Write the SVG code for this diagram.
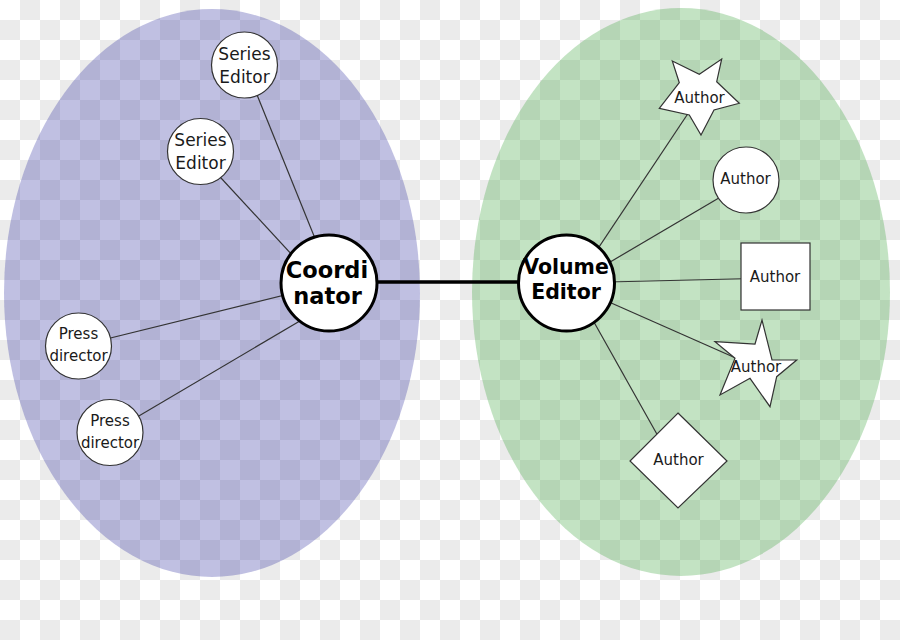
<svg xmlns="http://www.w3.org/2000/svg" width="900" height="640" viewBox="0 0 900 640">
  <defs>
    <pattern id="checker" x="0" y="0" width="40" height="40" patternUnits="userSpaceOnUse">
      <rect width="40" height="40" fill="#ffffff"/>
      <rect x="20" y="0" width="20" height="20" fill="#ebebeb"/>
      <rect x="0" y="20" width="20" height="20" fill="#ebebeb"/>
    </pattern>
    <style>
      .node { fill: #ffffff; stroke: #333333; stroke-width: 1.2; }
      .hub { fill: #ffffff; stroke: #000000; stroke-width: 3; }
      .lbl { font-family: "DejaVu Sans", "Noto Sans", sans-serif; fill: #1a1a1a; text-anchor: middle; }
      .hubl { font-family: "DejaVu Sans", "Noto Sans", sans-serif; font-weight: bold; fill: #000000; text-anchor: middle; }
      .link { stroke: #333333; stroke-width: 1.2; fill: none; }
    </style>
  </defs>

  <rect x="0" y="0" width="900" height="640" fill="url(#checker)"/>

  <g id="groups">
    <ellipse cx="212" cy="293" rx="208" ry="284" fill="rgb(45,45,158)" fill-opacity="0.3"/>
    <ellipse cx="681" cy="292" rx="209" ry="284" fill="rgb(55,162,55)" fill-opacity="0.3"/>
  </g>

  <g id="connectors">
    <line class="link" x1="245" y1="65" x2="333" y2="283"/>
    <line class="link" x1="197" y1="152" x2="318" y2="283"/>
    <line class="link" x1="78" y1="346" x2="329" y2="284"/>
    <line class="link" x1="110" y1="433" x2="310" y2="315"/>
    <line stroke="#000000" stroke-width="3.5" x1="377" y1="282" x2="518" y2="282"/>
    <line class="link" x1="699" y1="97" x2="575" y2="283"/>
    <line class="link" x1="746" y1="182" x2="566" y2="288"/>
    <line class="link" x1="775" y1="278" x2="566" y2="283"/>
    <line class="link" x1="756" y1="367" x2="566" y2="283"/>
    <line class="link" x1="672" y1="461" x2="572" y2="283"/>
  </g>

  <g id="series-editor-1">
    <circle class="node" cx="244.5" cy="65" r="33"/>
    <text class="lbl" x="244.5" y="59.5" font-size="17">Series</text>
    <text class="lbl" x="244.5" y="82.5" font-size="17">Editor</text>
  </g>
  <g id="series-editor-2">
    <circle class="node" cx="200.5" cy="151.5" r="33"/>
    <text class="lbl" x="200.5" y="145.7" font-size="17">Series</text>
    <text class="lbl" x="200.5" y="169.3" font-size="17">Editor</text>
  </g>
  <g id="press-director-1">
    <circle class="node" cx="78.5" cy="346" r="33"/>
    <text class="lbl" x="78.5" y="339.3" font-size="15">Press</text>
    <text class="lbl" x="78.5" y="360.7" font-size="15">director</text>
  </g>
  <g id="press-director-2">
    <circle class="node" cx="110" cy="432.5" r="33"/>
    <text class="lbl" x="110" y="426" font-size="15">Press</text>
    <text class="lbl" x="110" y="447.5" font-size="15">director</text>
  </g>
  <g id="coordinator">
    <circle class="hub" cx="329" cy="283" r="48"/>
    <text class="hubl" x="327" y="277.5" font-size="22.5">Coordi</text>
    <text class="hubl" x="327.5" y="303.5" font-size="22.5">nator</text>
  </g>
  <g id="volume-editor">
    <circle class="hub" cx="566.5" cy="283" r="48"/>
    <text class="hubl" x="566" y="274" font-size="20.5">Volume</text>
    <text class="hubl" x="566" y="298.5" font-size="20.5">Editor</text>
  </g>
  <g id="author-star-1">
    <polygon class="node" points="672.3,61 699.3,74.3 721.7,59 716.7,81.7 739.3,103.3 714,110 701,135 689.3,115 659.3,108.3 679.3,82.7"/>
    <text class="lbl" x="699.5" y="103.3" font-size="15">Author</text>
  </g>
  <g id="author-circle">
    <circle class="node" cx="746" cy="180" r="33"/>
    <text class="lbl" x="745.5" y="184" font-size="15">Author</text>
  </g>
  <g id="author-square">
    <rect class="node" x="741" y="243" width="69" height="67"/>
    <text class="lbl" x="775" y="282.3" font-size="15">Author</text>
  </g>
  <g id="author-star-2">
    <polygon class="node" points="715,341.7 755,344 762,320 772,360 796.7,360 776.7,376.7 770,406.7 750,378.3 720,395 735,358.3"/>
    <text class="lbl" x="756" y="371.7" font-size="15">Author</text>
  </g>
  <g id="author-diamond">
    <polygon class="node" points="678,413 727,461 678,508 630,461"/>
    <text class="lbl" x="678.5" y="465" font-size="15">Author</text>
  </g>
</svg>
